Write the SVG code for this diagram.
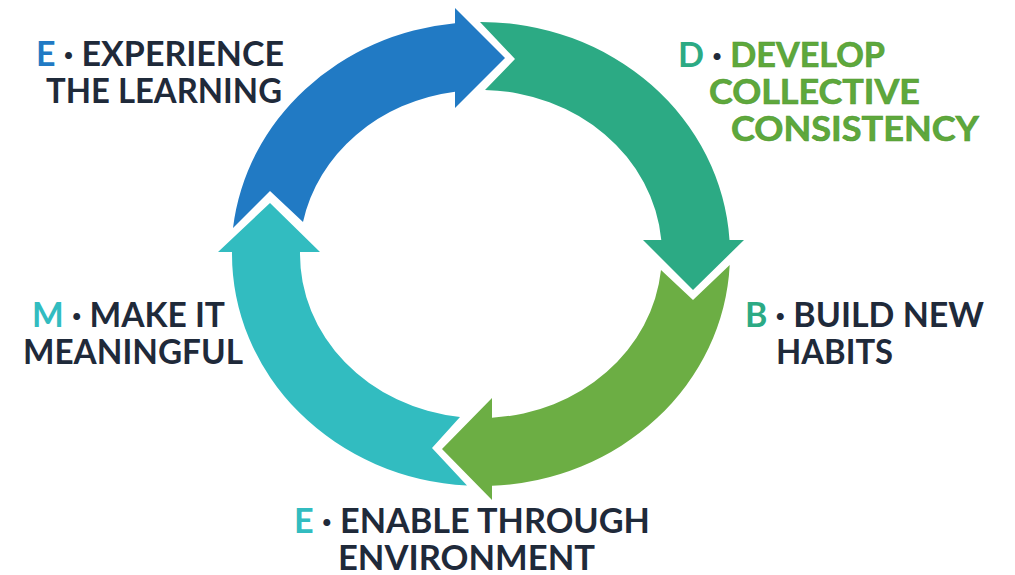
<svg xmlns="http://www.w3.org/2000/svg" width="1015" height="575" viewBox="0 0 1015 575">
  <style>
    text { font-family: Lato, "Liberation Sans", sans-serif; font-weight: 700; font-size: 34px; fill: #1f2a3a; }
    .green { fill: #5ea83c; stroke: #4f9a31; stroke-width: 0.6; }
    .cBlue { fill: #217ac4; }
    .cDev { fill: #2caa84; }
    .cBuild { fill: #2caa84; }
    .cTeal { fill: #32bcc0; }
    .dot { fill: #1f2a3a; font-weight: 900; }
  </style>
  <rect width="1015" height="575" fill="#ffffff"/>
  <g id="connectors">
    <path id="arrow-experience" fill="#217ac4" d="M 233,228 A 249 232 0 0 1 455,23.3 L 455,8 L 505,58 L 455,108 L 455,91.7 A 181 164 0 0 0 303,222 L 270,191 Z"/>
    <path id="arrow-develop" fill="#2caa84" d="M 480,22 A 249 232 0 0 1 729.5,240 L 744,240 L 693,290 L 643,240 L 661.3,240 A 181 164 0 0 0 485,90 L 515,59 Z"/>
    <path id="arrow-build" fill="#6cae44" d="M 729.7,265 A 249 232 0 0 1 492,485.8 L 492,500 L 442,449 L 492,398 L 492,417.7 A 181 164 0 0 0 661,270 L 693,300 Z"/>
    <path id="arrow-meaningful" fill="#32bcc0" d="M 467,485.6 A 249 232 0 0 1 232,252 L 218,252 L 270,203 L 320,252 L 300,252 A 181 164 0 0 0 460,417 L 432,448 Z"/>
  </g>
  <g id="node-experience">
    <text x="36" y="66" textLength="248" lengthAdjust="spacingAndGlyphs"><tspan class="cBlue">E</tspan> <tspan class="dot">·</tspan> EXPERIENCE</text>
    <text x="46" y="103" textLength="236" lengthAdjust="spacingAndGlyphs">THE LEARNING</text>
  </g>
  <g id="node-develop">
    <text x="678" y="67" textLength="207" lengthAdjust="spacingAndGlyphs"><tspan class="cDev">D</tspan> <tspan class="dot">·</tspan> <tspan class="green">DEVELOP</tspan></text>
    <text class="green" x="709" y="104" textLength="211" lengthAdjust="spacingAndGlyphs">COLLECTIVE</text>
    <text class="green" x="731" y="141" textLength="248" lengthAdjust="spacingAndGlyphs">CONSISTENCY</text>
  </g>
  <g id="node-build">
    <text x="745" y="327" textLength="239" lengthAdjust="spacingAndGlyphs"><tspan class="cBuild">B</tspan> <tspan class="dot">·</tspan> BUILD NEW</text>
    <text x="776" y="364" textLength="117" lengthAdjust="spacingAndGlyphs">HABITS</text>
  </g>
  <g id="node-enable">
    <text x="294" y="533" textLength="356" lengthAdjust="spacingAndGlyphs"><tspan class="cTeal">E</tspan> <tspan class="dot">·</tspan> ENABLE THROUGH</text>
    <text x="338" y="570" textLength="257" lengthAdjust="spacingAndGlyphs">ENVIRONMENT</text>
  </g>
  <g id="node-meaningful">
    <text x="32" y="327" textLength="193" lengthAdjust="spacingAndGlyphs"><tspan class="cTeal">M</tspan> <tspan class="dot">·</tspan> MAKE IT</text>
    <text x="23" y="364" textLength="220" lengthAdjust="spacingAndGlyphs">MEANINGFUL</text>
  </g>
</svg>
